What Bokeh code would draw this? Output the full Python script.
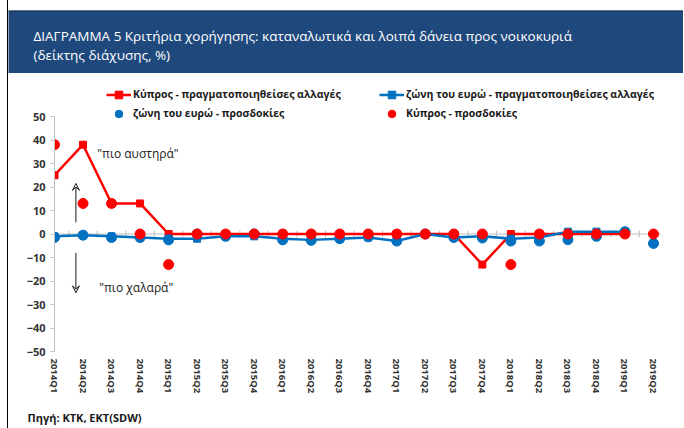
import math
from bokeh.plotting import figure
from bokeh.models import (Range1d, FixedTicker, Span, Legend, LegendItem, Label,
                          Arrow, VeeHead)
from bokeh.embed import file_html
from bokeh.resources import INLINE

nan = float("nan")

quarters = ["2014Q1", "2014Q2", "2014Q3", "2014Q4", "2015Q1", "2015Q2", "2015Q3", "2015Q4",
            "2016Q1", "2016Q2", "2016Q3", "2016Q4", "2017Q1", "2017Q2", "2017Q3", "2017Q4",
            "2018Q1", "2018Q2", "2018Q3", "2018Q4", "2019Q1", "2019Q2"]
cy_realised = [25, 38, 13, 13, 0, 0, 0, 0, 0, 0, 0, 0, 0, 0, 0, -13, 0, 0, 0, 0, 0, nan]
ea_realised = [-1, -0.5, -1, -1.5, -2, -2, -1, -1, -2, -2.5, -2, -1.5, -3, 0, -1.5, -1,
               -2, -1.5, 1, 1, 1, nan]
ea_expected = [-1.5, -0.5, -1.5, -1.5, -2.5, 0, -1, 0, -2.5, -2.7, -2, -1.2, -3, 0, -1.5,
               -1.7, -3, -3, -2.4, -1, 1, -4]
cy_expected = [38, 13, 13, 0, -13, 0, 0, 0, 0, 0, 0, 0, 0, 0, 0, 0, -13, 0, 0, 0, 0, 0]
y_ticks = [-50, -40, -30, -20, -10, 0, 10, 20, 30, 40, 50]

title_1 = "ΔΙΑΓΡΑΜΜΑ 5 Κριτήρια χορήγησης: καταναλωτικά και λοιπά δάνεια προς νοικοκυριά"
title_2 = "(δείκτης διάχυσης, %)"
labels = ["Κύπρος - πραγματοποιηθείσες αλλαγές", "ζώνη του ευρώ - πραγματοποιηθείσες αλλαγές",
          "ζώνη του ευρώ - προσδοκίες", "Κύπρος - προσδοκίες"]
note_up = "\"πιο αυστηρά\""
note_down = "\"πιο χαλαρά\""
source_txt = "Πηγή: ΚΤΚ, ΕΚΤ(SDW)"

RED = "#FF0000"
BLUE = "#0070C0"
BAND = "#1F497D"
AXIS = "#BFBFBF"
FONT = "Open Sans"
TXT = "#1A1A1A"
W = 676
EDGE = {"margin-left": "7px", "border-left": "1px solid #000000"}

# ---------- title band ----------
t = figure(width=W, height=73, x_range=Range1d(0, W), y_range=Range1d(0, 63),
           output_backend="svg", toolbar_location=None,
           x_axis_location=None, y_axis_location=None,
           min_border_left=0, min_border_right=0, min_border_top=10, min_border_bottom=0,
           background_fill_color=BAND, border_fill_color="white", outline_line_color=None,
           styles=EDGE)
t.grid.visible = False
t.add_layout(Span(location=62.6, dimension="width", line_color="#0D1B2E", line_width=1))
for txt, yy in ((title_1, 38), (title_2, 19)):
    t.add_layout(Label(x=25, y=yy, text=txt, text_color="white", text_font=FONT,
                       text_font_size="13.5px", text_baseline="middle", text_align="left"))

# ---------- main chart ----------
x = list(range(len(quarters)))
mid = [i + 0.5 for i in x[:-1]]
n_last = len(quarters) - 1
p = figure(width=W, height=336, x_range=Range1d(0, n_last + 31 / 28.524),
           y_range=Range1d(-50, -50 + 270 / 2.35),
           output_backend="svg", toolbar_location=None,
           min_border_left=46, min_border_right=0, min_border_top=8, min_border_bottom=58,
           outline_line_color=None, background_fill_color="white", border_fill_color="white",
           styles=EDGE)
p.grid.visible = False

p.yaxis.ticker = FixedTicker(ticks=y_ticks)
p.yaxis.bounds = (-50, 50)
p.yaxis.axis_line_color = AXIS
p.yaxis.major_tick_line_color = AXIS
p.yaxis.major_tick_out = 4
p.yaxis.major_tick_in = 0
p.yaxis.minor_tick_line_color = None
p.yaxis.major_label_standoff = 5
p.yaxis.major_label_text_font = FONT
p.yaxis.major_label_text_font_size = "11px"
p.yaxis.major_label_text_font_style = "bold"
p.yaxis.major_label_text_color = "#333333"

p.xaxis.ticker = FixedTicker(ticks=x)
p.xaxis.major_label_overrides = {i: q for i, q in zip(x, quarters)}
p.xaxis.axis_line_color = None
p.xaxis.major_tick_line_color = None
p.xaxis.minor_tick_line_color = None
p.xaxis.major_tick_out = 0
p.xaxis.major_tick_in = 0
p.xaxis.major_label_standoff = 7
p.xaxis.major_label_orientation = -math.pi / 2
p.xaxis.major_label_text_font = FONT
p.xaxis.major_label_text_font_size = "9.5px"
p.xaxis.major_label_text_font_style = "bold"
p.xaxis.major_label_text_color = "#333333"

# category axis through zero (line + small ticks between categories)
p.line([x[0], x[-1] + 0.25], [0, 0], line_color=AXIS, line_width=1)
p.scatter(mid, [0] * len(mid), marker="dash", angle=math.pi / 2, size=7,
          line_color=AXIS, line_width=1)

r_cy_line = p.line(x, cy_realised, line_color=RED, line_width=2.5)
r_cy_sq = p.scatter(x, cy_realised, marker="square", size=7, color=RED)
r_ea_line = p.line(x, ea_realised, line_color=BLUE, line_width=2.5)
r_ea_sq = p.scatter(x, ea_realised, marker="square", size=7, color=BLUE)
r_ea_exp = p.scatter(x, ea_expected, marker="circle", size=10, color=BLUE)
r_cy_exp = p.scatter(x, cy_expected, marker="circle", size=10, color=RED)

common = dict(margin=0, padding=0, spacing=0, glyph_width=25, glyph_height=19,
              label_height=19, label_standoff=2, border_line_color=None,
              background_fill_alpha=0, label_text_font=FONT, label_text_font_size="10.5px",
              label_text_font_style="bold", label_text_color=TXT, orientation="vertical")
leg_a = Legend(items=[LegendItem(label=labels[0], renderers=[r_cy_line, r_cy_sq]),
                      LegendItem(label=labels[2], renderers=[r_ea_exp])],
               location=(52, 228.5), **common)
leg_b = Legend(items=[LegendItem(label=labels[1], renderers=[r_ea_line, r_ea_sq]),
                      LegendItem(label=labels[3], renderers=[r_cy_exp])],
               location=(325, 228.5), **common)
p.add_layout(leg_a)
p.add_layout(leg_b)

p.add_layout(Arrow(end=VeeHead(size=7, line_color=TXT, line_width=1, fill_color=None),
                   x_start=0.75, y_start=5, x_end=0.75, y_end=21.5,
                   line_color=TXT, line_width=1))
p.add_layout(Arrow(end=VeeHead(size=7, line_color=TXT, line_width=1, fill_color=None),
                   x_start=0.75, y_start=-8, x_end=0.75, y_end=-25,
                   line_color=TXT, line_width=1))
p.add_layout(Label(x=1.5, y=34.3, text=note_up, text_font=FONT, text_font_size="12px",
                   text_color=TXT, text_baseline="middle"))
p.add_layout(Label(x=1.57, y=-22.8, text=note_down, text_font=FONT, text_font_size="12px",
                   text_color=TXT, text_baseline="middle"))

# ---------- footer ----------
f = figure(width=W, height=19, x_range=Range1d(0, W), y_range=Range1d(0, 19),
           output_backend="svg", toolbar_location=None,
           x_axis_location=None, y_axis_location=None, min_border=0,
           background_fill_color="white", border_fill_color="white", outline_line_color=None,
           styles=EDGE)
f.grid.visible = False
f.add_layout(Label(x=19, y=11, text=source_txt, text_font=FONT, text_font_size="11px",
                   text_font_style="bold", text_color=TXT, text_baseline="middle"))

open("out.html", "w").write(file_html([t, p, f], INLINE))
